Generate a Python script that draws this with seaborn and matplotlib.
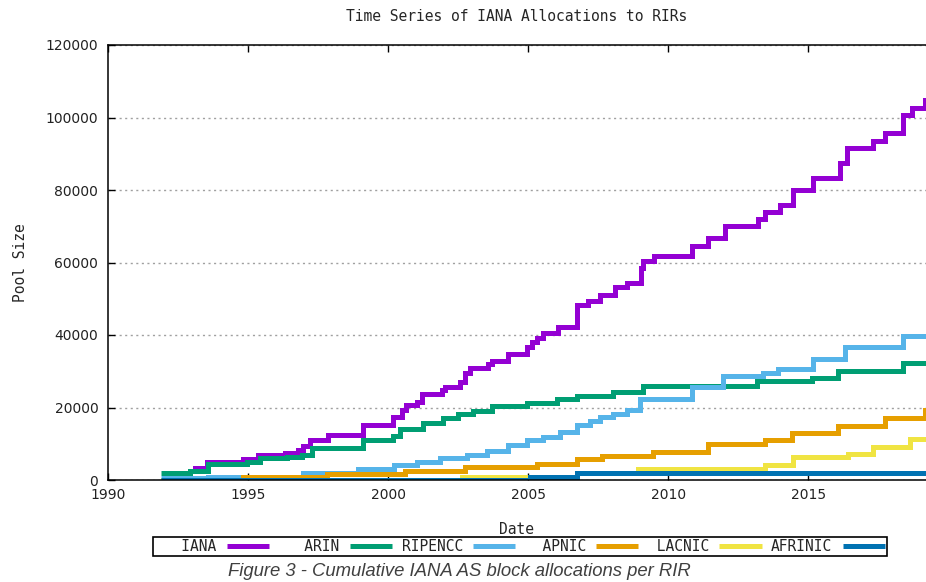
import matplotlib
matplotlib.use('Agg')
import matplotlib.pyplot as plt
from matplotlib.lines import Line2D
import pandas as pd
import seaborn as sns

# legend labels as drawn in the reference (text first, then line sample)
labels = ['IANA', 'ARIN', 'RIPENCC', 'APNIC', 'LACNIC', 'AFRINIC']
colors = ['#9400D3', '#009E73', '#56B4E9', '#E69F00', '#F0E442', '#0072B2']

# step start dates (decimal years) and cumulative pool size
iana_years = [1993.0, 1993.11, 1993.54, 1994.82, 1995.36, 1996.32, 1996.79, 1996.96, 1997.21, 1997.86,
              1999.11, 2000.18, 2000.5, 2000.64, 2001.04, 2001.21, 2001.93, 2002.04, 2002.57, 2002.75,
              2002.93, 2003.57, 2003.71, 2004.29, 2004.96, 2005.14, 2005.32, 2005.54, 2006.07, 2006.75,
              2007.14, 2007.57, 2008.11, 2008.54, 2009.04, 2009.11, 2009.5, 2010.86, 2011.43, 2012.04,
              2013.21, 2013.46, 2014.0, 2014.46, 2015.18, 2016.14, 2016.39, 2017.32, 2017.75, 2018.39,
              2018.71, 2019.18]
iana_vals = [2500, 3200, 5100, 5700, 6900, 7400, 8300, 9500, 11000, 12400,
             15300, 17300, 19300, 20700, 21600, 23600, 24800, 25700, 27100, 29400,
             30800, 31900, 32800, 34800, 36800, 38200, 39100, 40500, 42100, 48400,
             49500, 51000, 53300, 54300, 58500, 60400, 61800, 64600, 66700, 70100,
             72000, 74000, 75900, 80000, 83300, 87400, 91600, 93500, 95800, 100700,
             102700, 104800]

arin_years = [1991.89, 1992.93, 1993.57, 1994.96, 1995.43, 1996.39, 1996.93, 1997.29, 1999.11, 2000.18,
              2000.43, 2001.25, 2001.96, 2002.5, 2003.04, 2003.71, 2004.96, 2006.04, 2006.75, 2008.04,
              2009.11, 2013.18, 2015.14, 2016.07, 2018.39]
arin_vals = [2000, 2600, 4400, 5100, 6000, 6400, 6900, 8900, 11000, 12100,
             14100, 15800, 17000, 18200, 19100, 20400, 21200, 22300, 23300, 24400,
             26000, 27400, 28200, 30200, 32400]

ripencc_years = [1991.89, 1993.57, 1996.96, 1998.93, 2000.22, 2001.04, 2001.86, 2002.82, 2003.54, 2004.29,
                 2004.96, 2005.54, 2006.14, 2006.75, 2007.21, 2007.57, 2008.04, 2008.54, 2009.0, 2010.86,
                 2011.97, 2013.39, 2013.93, 2015.18, 2016.32, 2018.39]
ripencc_vals = [500, 900, 2000, 2900, 4100, 5100, 6200, 6900, 8000, 9700,
                11000, 12000, 13200, 15300, 16200, 17300, 18100, 19300, 22300, 25600,
                28600, 29400, 30700, 33500, 36800, 39800]

apnic_years = [1991.89, 1994.82, 1997.82, 2000.61, 2002.75, 2005.32, 2006.75, 2007.64, 2009.46, 2011.43,
               2013.46, 2014.43, 2016.07, 2017.75, 2019.18]
apnic_vals = [100, 700, 1600, 2500, 3700, 4400, 5800, 6600, 7800, 9900,
              10900, 12900, 14900, 17000, 19300]

lacnic_years = [1991.89, 2002.64, 2006.75, 2008.93, 2013.46, 2014.46, 2016.43, 2017.32, 2018.64]
lacnic_vals = [0, 900, 2000, 3100, 4100, 6300, 7100, 9200, 11200]

afrinic_years = [1991.89, 2005.07, 2006.75]
afrinic_vals = [0, 700, 2000]

end_year = 2019.3

series_years = [iana_years, arin_years, ripencc_years, apnic_years, lacnic_years, afrinic_years]
series_vals = [iana_vals, arin_vals, ripencc_vals, apnic_vals, lacnic_vals, afrinic_vals]

sns.set_style('ticks')
mono = 'DejaVu Sans Mono'
lw = 3.6

fig = plt.figure(figsize=(9.26, 5.82), dpi=100)
ax = fig.add_axes([108 / 926, 1 - 480 / 582, 818 / 926, 435 / 582])

for name, yrs, vals, col in zip(labels, series_years, series_vals, colors):
    df = pd.DataFrame({'Date': yrs + [end_year], 'Pool Size': vals + [vals[-1]]})
    sns.lineplot(data=df, x='Date', y='Pool Size', ax=ax, color=col, linewidth=lw,
                 drawstyle='steps-post', estimator=None, legend=False,
                 solid_joinstyle='miter', solid_capstyle='butt')

ax.set_xlim(1990, 2019.21)
ax.set_ylim(0, 120000)
ax.set_xticks([1990, 1995, 2000, 2005, 2010, 2015])
ax.set_yticks(range(0, 120001, 20000))
ax.tick_params(direction='in', length=5, width=1, top=True, right=False, labelsize=10,
               colors='black', labelcolor='#222222')
ax.tick_params(axis='x', pad=6)
ax.tick_params(axis='y', pad=7)
ax.yaxis.grid(True, linestyle=(0, (1.5, 2.5)), color='#a0a0a0', linewidth=1)
ax.xaxis.grid(False)
for s in ['left', 'top', 'bottom']:
    ax.spines[s].set_color('black')
    ax.spines[s].set_linewidth(1.1)
ax.spines['right'].set_visible(False)

ax.set_title('Time Series of IANA Allocations to RIRs', family=mono, fontsize=10.5, pad=17)
ax.set_xlabel('Date', family=mono, fontsize=10.5, labelpad=14)
ax.set_ylabel('Pool Size', family=mono, fontsize=10.5, labelpad=13)

handles = [Line2D([], [], color=c, linewidth=lw, solid_capstyle='butt') for c in colors]
padded = [lab.rjust(7) for lab in labels]
leg = fig.legend(handles, padded, loc='center', bbox_to_anchor=(520 / 926, 1 - 546.5 / 582),
                 ncol=6, markerfirst=False, frameon=True, fancybox=False, framealpha=1,
                 edgecolor='black', prop={'family': mono, 'size': 10.5},
                 handlelength=2.9, handletextpad=0.7, columnspacing=0.65,
                 borderpad=0.15, borderaxespad=0)
leg.get_frame().set_linewidth(1.2)

fig.text(459 / 926, 1 - 572 / 582, 'Figure 3 - Cumulative IANA AS block allocations per RIR',
         ha='center', va='center', style='italic', family='Liberation Sans', fontsize=13.3,
         color='#404040')

fig.savefig('out.png', dpi=100)
